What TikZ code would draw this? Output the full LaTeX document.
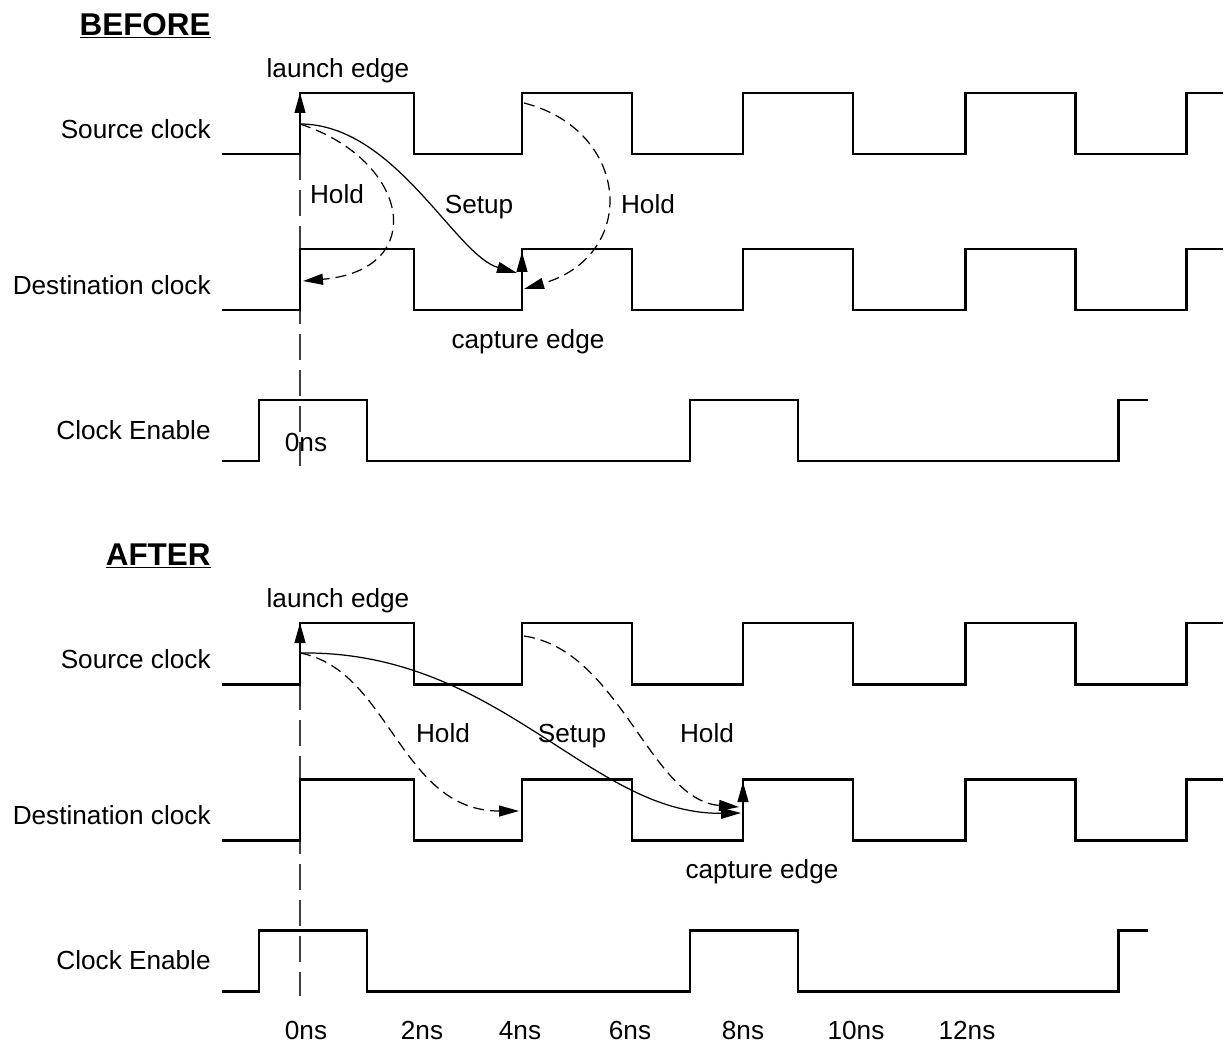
\documentclass[tikz,border=0pt]{standalone}
\usepackage{fontspec}
\setmainfont{Liberation Sans}
\usetikzlibrary{arrows.meta}
\begin{document}
\begin{tikzpicture}[
    x=0.02cm,y=-0.02cm,
    tmWave/.style={line width=1.7pt,line join=miter},
    tmArrowS/.style={-{Triangle[length=0.4cm,width=0.22cm]},line width=0.7pt},
    tmArrowD/.style={tmArrowS,dash pattern=on 0.22cm off 0.12cm},
    tmGrid/.style={draw=black!75,line width=0.8pt,dash pattern=on 0.52cm off 0.2cm},
    tmText/.style={font=\fontsize{14.9}{18}\selectfont,inner sep=0pt},
    tmTitle/.style={font=\fontsize{17.9}{21}\selectfont\bfseries,inner sep=0pt},
]
\useasboundingbox (0,0) rectangle (1225,1045);

% BEFORE
\node[tmTitle,anchor=base east] (ttlB) at (211,35) {\underline{BEFORE}};
\node[tmText,anchor=base east] (srcB) at (211,138) {Source clock};
\node[tmText,anchor=base east] (dstB) at (211,294) {Destination clock};
\node[tmText,anchor=base east] (ceB) at (211,439) {Clock Enable};

\draw[tmGrid] (300,154) -- (300,466);
\draw[tmWave] (222,154) -- (300,154) |- (414,93) |- (522,154) |- (632,93) |- (743,154) |- (853,93) |- (965,154) |- (1075,93) |- (1186,154) |- (1223,93);
\draw[tmWave] (222,310) -- (300,310) |- (414,249) |- (522,310) |- (632,249) |- (743,310) |- (853,249) |- (965,310) |- (1075,249) |- (1186,310) |- (1223,249);
\draw[tmWave] (222,461) -- (259,461) |- (367,400) |- (690,461) |- (798,400) |- (1118,461) |- (1148,400);

\coordinate (lnchBotB) at (300,154);
\coordinate (lnchTopB) at (300,93);
\coordinate (lnchB) at (300,124);
\coordinate (capB) at (517,273);
\coordinate (holdEndB) at (303,281);
\coordinate (riseTwoB) at (524,103);
\coordinate (capHoldB) at (524,289);
\coordinate (capBotB) at (522,310);
\coordinate (capTopB) at (522,252);
\draw[tmArrowS] (lnchBotB) -- (lnchTopB);
\draw[tmArrowS] (capBotB) -- (capTopB);
\draw[tmArrowS] (lnchB) .. controls (395,124) and (455,255) .. (capB);
\draw[tmArrowD] (lnchB) .. controls (410,160) and (430,270) .. (holdEndB);
\draw[tmArrowD] (riseTwoB) .. controls (630,130) and (640,255) .. (capHoldB);

\node[tmText,anchor=base] (launchB) at (338,77) {launch edge};
\node[tmText,anchor=base] (holdOneB) at (337,203) {Hold};
\node[tmText,anchor=base] (setupB) at (479,213) {Setup};
\node[tmText,anchor=base] (holdTwoB) at (648,213) {Hold};
\node[tmText,anchor=base] (captureB) at (528,348) {capture edge};
\node[tmText,anchor=base] (zeroB) at (306,451) {0ns};

% AFTER
\node[tmTitle,anchor=base east] (ttlA) at (211,565) {\underline{AFTER}};
\node[tmText,anchor=base east] (srcA) at (211,668) {Source clock};
\node[tmText,anchor=base east] (dstA) at (211,824) {Destination clock};
\node[tmText,anchor=base east] (ceA) at (211,969) {Clock Enable};

\draw[tmGrid] (300,684) -- (300,996);
\draw[tmWave] (222,684) -- (300,684) |- (414,623) |- (522,684) |- (632,623) |- (743,684) |- (853,623) |- (965,684) |- (1075,623) |- (1186,684) |- (1223,623);
\draw[tmWave] (222,840) -- (300,840) |- (414,779) |- (522,840) |- (632,779) |- (743,840) |- (853,779) |- (965,840) |- (1075,779) |- (1186,840) |- (1223,779);
\draw[tmWave] (222,991) -- (259,991) |- (367,930) |- (690,991) |- (798,930) |- (1118,991) |- (1148,930);

\coordinate (lnchBotA) at (300,684);
\coordinate (lnchTopA) at (300,623);
\coordinate (lnchA) at (300,653);
\coordinate (capA) at (741,813);
\coordinate (holdEndA) at (519,811);
\coordinate (riseTwoA) at (524,636);
\coordinate (capHoldA) at (739,807);
\coordinate (capBotA) at (743,840);
\coordinate (capTopA) at (743,782);
\draw[tmArrowS] (lnchBotA) -- (lnchTopA);
\draw[tmArrowS] (capBotA) -- (capTopA);
\draw[tmArrowS] (lnchA) .. controls (500,650) and (590,815) .. (capA);
\draw[tmArrowD] (lnchA) .. controls (390,670) and (400,811) .. (holdEndA);
\draw[tmArrowD] (riseTwoA) .. controls (620,650) and (650,800) .. (capHoldA);

\node[tmText,anchor=base] (launchA) at (338,607) {launch edge};
\node[tmText,anchor=base] (holdOneA) at (443,742) {Hold};
\node[tmText,anchor=base] (setupA) at (572,742) {Setup};
\node[tmText,anchor=base] (holdTwoA) at (707,742) {Hold};
\node[tmText,anchor=base] (captureA) at (762,878) {capture edge};

% time axis
\node[tmText,anchor=base] (t0) at (306,1039) {0ns};
\node[tmText,anchor=base] (t2) at (422,1039) {2ns};
\node[tmText,anchor=base] (t4) at (520,1039) {4ns};
\node[tmText,anchor=base] (t6) at (630,1039) {6ns};
\node[tmText,anchor=base] (t8) at (743,1039) {8ns};
\node[tmText,anchor=base] (t10) at (856,1039) {10ns};
\node[tmText,anchor=base] (t12) at (967,1039) {12ns};
\end{tikzpicture}
\end{document}
